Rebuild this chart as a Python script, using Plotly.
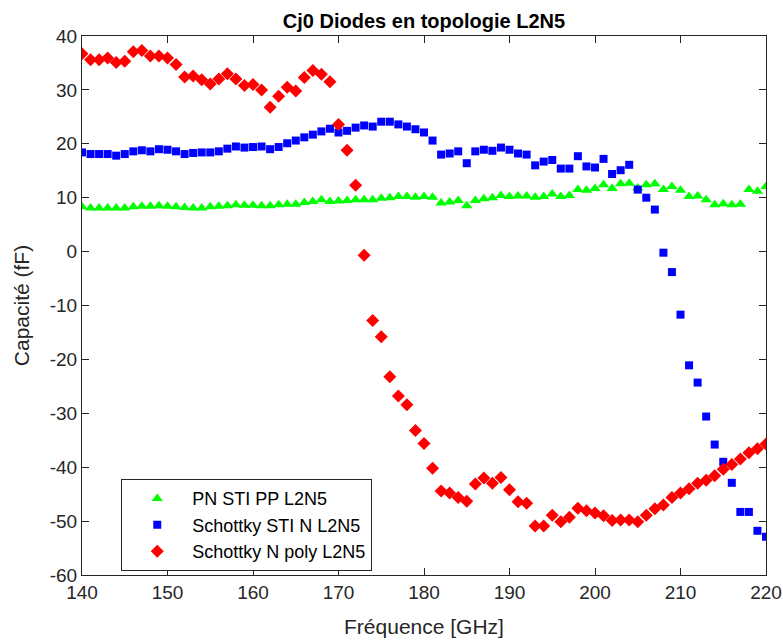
import plotly.graph_objects as go

freq = list(range(140, 221))

pn_sti_pp = [8.3, 8.1, 8.1, 8.1, 8.1, 8.1, 8.3, 8.4, 8.4, 8.5,
             8.4, 8.3, 8.2, 8.1, 8.1, 8.3, 8.4, 8.5, 8.7, 8.6,
             8.6, 8.5, 8.5, 8.7, 8.8, 8.8, 9.1, 9.3, 9.6, 9.3,
             9.4, 9.5, 9.6, 9.6, 9.6, 9.9, 10.0, 10.2, 10.2, 10.1,
             10.2, 10.1, 9.0, 9.2, 9.5, 8.5, 9.5, 9.8, 10.0, 10.4,
             10.2, 10.3, 10.3, 10.1, 10.2, 10.7, 10.2, 10.4, 11.5, 11.4,
             11.7, 12.4, 11.7, 12.6, 12.7, 11.8, 12.4, 12.6, 11.5, 12.1,
             11.4, 10.2, 10.3, 9.6, 8.7, 8.9, 8.7, 8.8, 11.5, 11.2,
             12.1]

schottky_sti_n = [18.4, 18.1, 18.1, 18.1, 17.8, 18.1, 18.6, 18.8, 18.6, 19.0,
                  18.9, 18.6, 18.1, 18.3, 18.4, 18.4, 18.6, 19.1, 19.5, 19.3,
                  19.4, 19.5, 19.0, 19.4, 20.1, 20.6, 21.2, 21.7, 22.3, 22.8,
                  22.1, 22.4, 23.0, 23.4, 23.2, 24.1, 24.1, 23.6, 23.2, 22.7,
                  22.1, 20.6, 18.0, 18.2, 18.6, 16.4, 18.6, 18.9, 18.7, 19.3,
                  18.9, 18.2, 18.0, 16.0, 16.7, 17.0, 15.4, 15.4, 17.7, 15.8,
                  15.6, 17.2, 14.4, 15.1, 16.1, 11.5, 10.0, 7.8, -0.2, -3.8,
                  -11.7, -21.1, -24.3, -30.6, -35.8, -39.0, -42.9, -48.3, -48.3, -51.8,
                  -52.9]

schottky_n_poly = [36.7, 35.6, 35.6, 35.9, 35.1, 35.3, 37.1, 37.3, 36.3, 36.3,
                   35.9, 34.7, 32.4, 32.6, 31.9, 31.1, 32.0, 33.0, 32.0, 30.8,
                   31.0, 30.0, 26.8, 28.8, 30.5, 29.8, 32.3, 33.6, 32.9, 31.5,
                   23.6, 18.8, 12.3, -0.7, -12.8, -15.8, -23.2, -26.8, -28.4, -33.2,
                   -35.6, -40.2, -44.4, -44.8, -45.6, -46.3, -43.1, -42.0, -43.0, -41.9,
                   -44.2, -46.4, -46.7, -50.9, -50.9, -48.9, -50.1, -49.3, -47.6, -48.1,
                   -48.5, -49.0, -49.9, -49.8, -49.8, -50.1, -48.9, -47.7, -47.0, -45.6,
                   -44.8, -44.0, -43.0, -42.4, -41.6, -40.4, -39.5, -38.5, -37.3, -36.6,
                   -35.7]

names = ["PN STI PP L2N5", "Schottky STI N L2N5", "Schottky N poly L2N5"]

x_ticks = [140, 150, 160, 170, 180, 190, 200, 210, 220]
x_tick_labels = ["140", "150", "160", "170", "180", "190", "200", "210", "220"]
y_ticks = [40, 30, 20, 10, 0, -10, -20, -30, -40, -50, -60]
y_tick_labels = ["40", "30", "20", "10", "0", "-10", "-20", "-30", "-40", "-50", "-60"]

FONT = "Liberation Sans, Arial, Helvetica, sans-serif"
AX = "#262626"

W, H = 783, 640

fig = go.Figure()
fig.add_trace(go.Scatter(x=freq, y=pn_sti_pp, mode="markers", name=names[0],
                         legendgroup="a",
                         marker=dict(symbol="triangle-up", size=10, color="#00FF00",
                                     line=dict(width=0))))
fig.add_trace(go.Scatter(x=freq, y=schottky_sti_n, mode="markers", name=names[1],
                         legendgroup="b",
                         marker=dict(symbol="square", size=8, color="#0000FF",
                                     line=dict(width=0))))
fig.add_trace(go.Scatter(x=freq, y=schottky_n_poly, mode="markers", name=names[2],
                         legendgroup="c",
                         marker=dict(symbol="diamond", size=10, color="#FF0000",
                                     line=dict(width=0))))

axis_common = dict(showgrid=False, zeroline=False, showline=True, linecolor=AX,
                   linewidth=1, mirror="ticks", ticks="inside", ticklen=7,
                   tickcolor=AX, tickwidth=1, automargin=False,
                   tickfont=dict(family=FONT, size=19, color=AX))

fig.update_layout(
    width=W, height=H,
    margin=dict(l=82, r=17, t=36, b=65),
    paper_bgcolor="white", plot_bgcolor="white",
    title=dict(text="<b>Cj0 Diodes en topologie L2N5</b>", x=424 / W, xref="container",
               xanchor="center", y=1 - 21 / H, yref="container", yanchor="middle",
               font=dict(family=FONT, size=20, color="#000000")),
    xaxis=dict(range=[140, 220], tickvals=x_ticks, ticktext=x_tick_labels,
               title=dict(text="Fréquence [GHz]", standoff=17,
                          font=dict(family=FONT, size=21, color=AX)),
               **axis_common),
    yaxis=dict(range=[-60, 40], tickvals=y_ticks, ticktext=y_tick_labels,
               title=dict(text="Capacité (fF)", standoff=14,
                          font=dict(family=FONT, size=21, color=AX)),
               **axis_common),
    legend=dict(x=0.0574, y=0.1777, xanchor="left", yanchor="top",
                bgcolor="white", bordercolor=AX, borderwidth=1,
                font=dict(family=FONT, size=18, color="#000000"),
                itemwidth=60, tracegroupgap=0),
    showlegend=True,
)

fig.write_html(
    "out.html",
    config={"displayModeBar": False},
    post_script="document.body.style.margin='0';document.body.style.overflow='hidden';",
)
